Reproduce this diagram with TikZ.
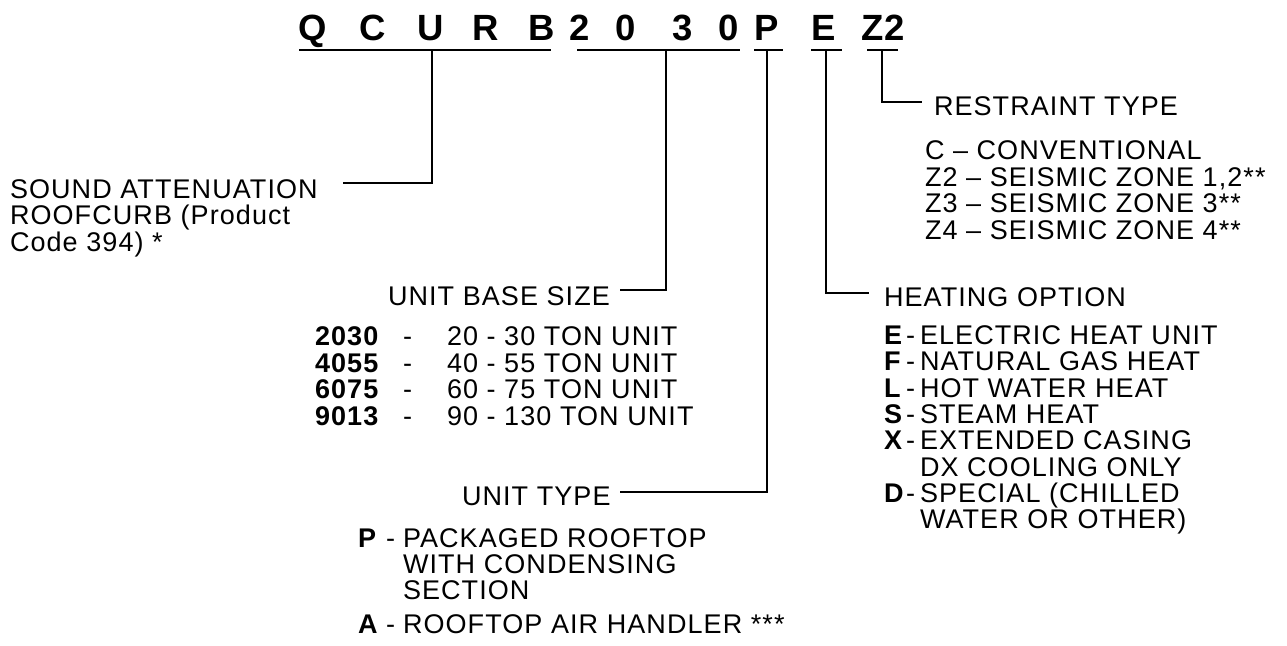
\documentclass[tikz,border=0pt]{standalone}
\usepackage{fontspec}
\setmainfont{Liberation Sans}
\newfontfamily\lspfam[LetterSpace=4]{Liberation Sans}
\newcommand\labfont{\lspfam\fontsize{27pt}{28pt}\selectfont}
\newcommand\codefont{\fontsize{36.5pt}{40pt}\selectfont\bfseries}
\begin{document}
\begin{tikzpicture}[x=1pt,y=-1pt,
  lbl/.style={font=\labfont,anchor=base west,inner sep=0pt,outer sep=0pt},
  blbl/.style={font=\labfont\bfseries,anchor=base west,inner sep=0pt,outer sep=0pt},
  code/.style={font=\codefont,anchor=base,inner sep=0pt,outer sep=0pt},
  ln/.style={line width=1.6pt,line cap=butt}]
\useasboundingbox (0,0) rectangle (1287,645);
% code letters
\node[code] (cQ) at (313,40) {Q};
\node[code] (cC) at (373,40) {C};
\node[code] (cU) at (431,40) {U};
\node[code] (cR) at (486,40) {R};
\node[code] (cB) at (542,40) {B};
\node[code] (d1) at (580,40) {2};
\node[code] (d2) at (626,40) {0};
\node[code] (d3) at (683,40) {3};
\node[code] (d4) at (729,40) {0};
\node[code] (cP) at (767,40) {P};
\node[code] (cE) at (824,40) {E};
\node[code] (cZ) at (883,40) {Z2};
% underlines
\coordinate (ua1) at (299,50); \coordinate (ub1) at (551,50);
\coordinate (ua2) at (577,50); \coordinate (ub2) at (740,50);
\coordinate (ua3) at (754,50); \coordinate (ub3) at (783,50);
\coordinate (ua4) at (811,50); \coordinate (ub4) at (842,50);
\coordinate (ua5) at (867,50); \coordinate (ub5) at (898,50);
\draw[ln] (ua1) -- (ub1);
\draw[ln] (ua2) -- (ub2);
\draw[ln] (ua3) -- (ub3);
\draw[ln] (ua4) -- (ub4);
\draw[ln] (ua5) -- (ub5);
% connector coordinates
\coordinate (s1) at (432,50); \coordinate (e1) at (343,183);
\coordinate (s2) at (666,50); \coordinate (e2) at (620,290);
\coordinate (s3) at (767,50); \coordinate (e3) at (620,492);
\coordinate (s4) at (826,50); \coordinate (e4) at (869,293);
\coordinate (s5) at (882,50); \coordinate (e5) at (922,102);
\draw[ln] (s1) |- (e1);
\draw[ln] (s2) |- (e2);
\draw[ln] (s3) |- (e3);
\draw[ln] (s4) |- (e4);
\draw[ln] (s5) |- (e5);
% sound attenuation
\node[lbl] (sa1) at (10,198) {SOUND ATTENUATION};
\node[lbl] (sa2) at (10,224) {ROOFCURB (Product};
\node[lbl] (sa3) at (10,251) {Code 394) *};
% unit base size
\node[lbl] (ubs) at (388,305) {UNIT BASE SIZE};
\node[blbl] (k1) at (315,345) {2030};
\node[lbl] (h1) at (403,345) {-};
\node[lbl] (t1) at (447,345) {20 - 30 TON UNIT};
\node[blbl] (k2) at (315,372) {4055};
\node[lbl] (h2) at (403,372) {-};
\node[lbl] (t2) at (447,372) {40 - 55 TON UNIT};
\node[blbl] (k3) at (315,398) {6075};
\node[lbl] (h3) at (403,398) {-};
\node[lbl] (t3) at (447,398) {60 - 75 TON UNIT};
\node[blbl] (k4) at (315,425) {9013};
\node[lbl] (h4) at (403,425) {-};
\node[lbl] (t4) at (447,425) {90 - 130 TON UNIT};
% unit type
\node[lbl] (ut) at (462,505) {UNIT TYPE};
\node[blbl] (pk) at (358,547) {P};
\node[lbl] (ph) at (386,547) {-};
\node[lbl] (p1) at (403,547) {PACKAGED ROOFTOP};
\node[lbl] (p2) at (403,573) {WITH CONDENSING};
\node[lbl] (p3) at (403,599) {SECTION};
\node[blbl] (ak) at (358,633) {A};
\node[lbl] (ah) at (386,633) {-};
\node[lbl] (a1) at (403,633) {ROOFTOP AIR HANDLER ***};
% restraint
\node[lbl] (rt) at (934,115) {RESTRAINT TYPE};
\node[lbl] (r1) at (925,159) {C – CONVENTIONAL};
\node[lbl] (r2) at (925,186) {Z2 – SEISMIC ZONE 1,2**};
\node[lbl] (r3) at (925,212) {Z3 – SEISMIC ZONE 3**};
\node[lbl] (r4) at (925,239) {Z4 – SEISMIC ZONE 4**};
% heating
\node[lbl] (ho) at (884,306) {HEATING OPTION};
\node[blbl] (hk1) at (884,344) {E};
\node[lbl] (hh1) at (906,344) {-};
\node[lbl] (ht1) at (920,344) {ELECTRIC HEAT UNIT};
\node[blbl] (hk2) at (884,370) {F};
\node[lbl] (hh2) at (906,370) {-};
\node[lbl] (ht2) at (920,370) {NATURAL GAS HEAT};
\node[blbl] (hk3) at (884,397) {L};
\node[lbl] (hh3) at (906,397) {-};
\node[lbl] (ht3) at (920,397) {HOT WATER HEAT};
\node[blbl] (hk4) at (884,423) {S};
\node[lbl] (hh4) at (906,423) {-};
\node[lbl] (ht4) at (920,423) {STEAM HEAT};
\node[blbl] (hk5) at (884,449) {X};
\node[lbl] (hh5) at (906,449) {-};
\node[lbl] (ht5) at (920,449) {EXTENDED CASING};
\node[lbl] (ht5b) at (920,476) {DX COOLING ONLY};
\node[blbl] (hk6) at (884,502) {D};
\node[lbl] (hh6) at (906,502) {-};
\node[lbl] (ht6) at (920,502) {SPECIAL (CHILLED};
\node[lbl] (ht6b) at (920,528) {WATER OR OTHER)};
\end{tikzpicture}
\end{document}
